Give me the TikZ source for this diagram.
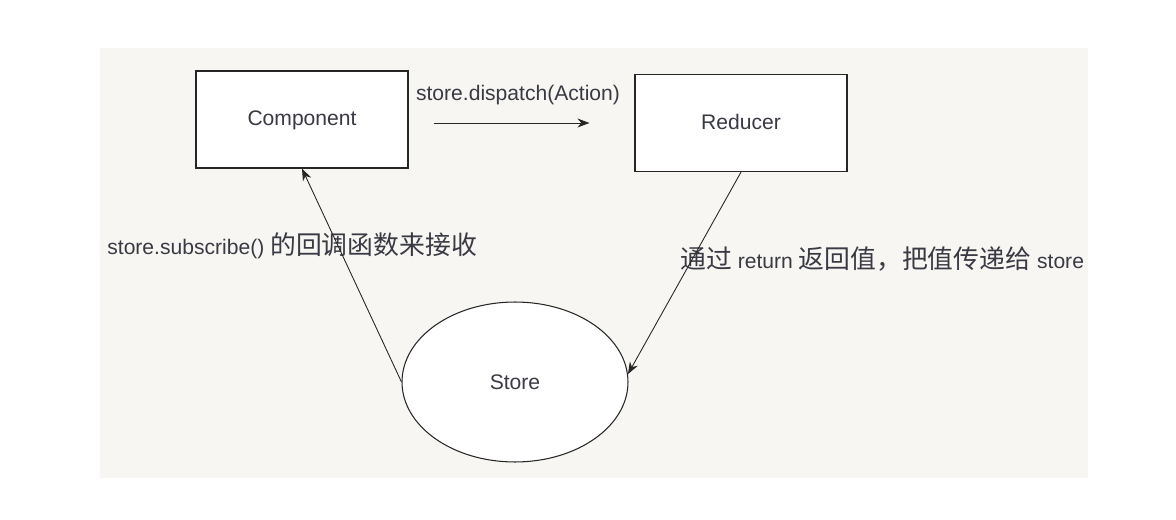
\documentclass[tikz,border=0pt]{standalone}
\usepackage{fontspec}
\setmainfont{Liberation Sans}
\newfontfamily\cjk{Noto Sans CJK SC}
\usetikzlibrary{arrows.meta,shapes.geometric}

\definecolor{panelgrey}{HTML}{F7F6F2}
\definecolor{inkgrey}{HTML}{3A3A44}

\newcommand{\zh}[1]{{\cjk\fontsize{14.7}{16}\selectfont #1}}

\tikzset{
  box/.style={draw=black!85, fill=white, line width=0.7pt, minimum width=4.24cm, minimum height=1.94cm, inner sep=0pt, text=inkgrey, text height=1.6ex, text depth=0.2ex},
  storeshape/.style={ellipse, draw=black!85, fill=white, line width=0.6pt, minimum width=4.52cm, minimum height=3.2cm, inner sep=0pt, text=inkgrey},
  flow/.style={-{Stealth[length=2.4mm,width=1.8mm]}, black!85, line width=0.5pt},
  lbl/.style={text=inkgrey, inner sep=0pt}
}

\begin{document}
\begin{tikzpicture}[x=0.02cm, y=-0.02cm, font=\fontsize{12}{14}\selectfont]
    \useasboundingbox (0,0) rectangle (1176,520);
    \fill[white] (0,0) rectangle (1176,520);
    \fill[panelgrey] (100,48) rectangle (1088,478);

    \node[box] (comp) at (302,119.5) {Component};
    \node[box] (red) at (741,123) {Reducer};
    \node[storeshape] (store) at (515,382) {Store};

    \node[lbl] (dispatch) at (518,95) {store.dispatch(Action)};
    \node[lbl, anchor=west] (sub) at (107,246) {store.subscribe() \zh{的回调函数来接收}};
    \node[lbl, anchor=west] (ret) at (680,259) {\zh{通过} return \zh{返回值，把值传递给} store};

    \draw[flow, shorten <=0.5cm, shorten >=0.9cm] (comp.east |- red.west) -- (red.west);
    \draw[flow] (red.south) -- (store.4);
    \draw[flow] (store.west) -- (comp.south);

\end{tikzpicture}
\end{document}
